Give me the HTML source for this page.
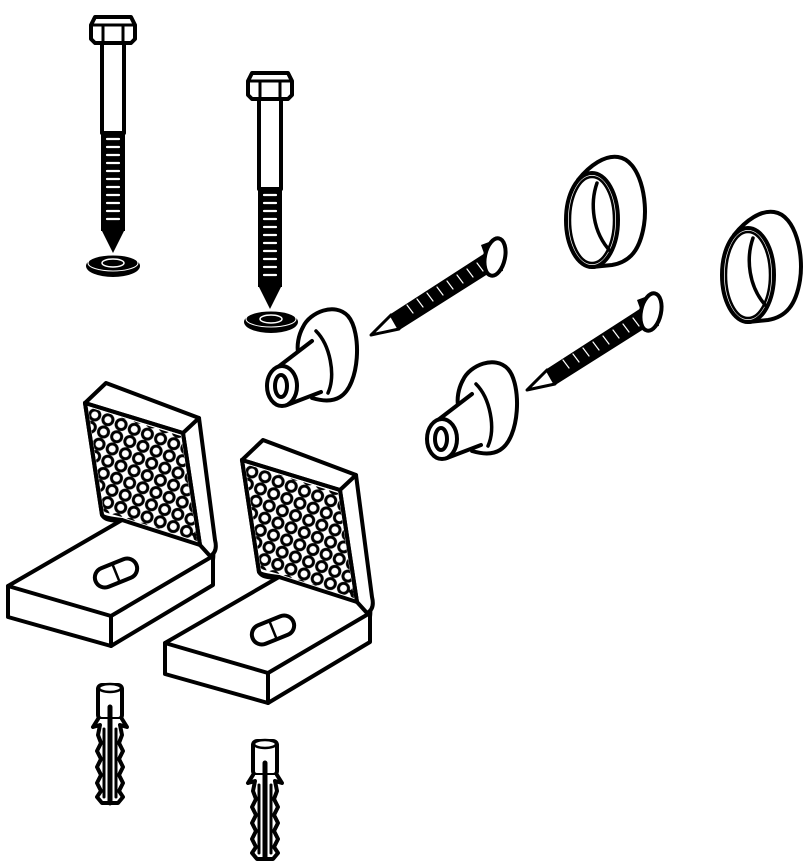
<!DOCTYPE html>
<html><head><meta charset="utf-8"><style>html,body{margin:0;padding:0;background:#fff}svg{display:block}</style></head>
<body>
<svg width="804" height="861" viewBox="0 0 804 861" xmlns="http://www.w3.org/2000/svg" fill="none" stroke="#000" stroke-width="4" stroke-linejoin="round" stroke-linecap="round">
<defs>
  <g id="bolt">
    <path d="M-22,-6 L-18,-14 L18,-14 L22,-6 L22,8 L18,12 L-18,12 L-22,8 Z" fill="#fff"/>
    <path d="M-10,-6 L10,-6 M-10,-6 L-10,12 M10,-6 L10,12 M-22,-6 L-10,-6 M10,-6 L22,-6" stroke-width="3"/>
    <rect x="-11" y="12" width="22" height="90" fill="#fff"/>
    <rect x="-12" y="100" width="24" height="100" fill="#000" stroke="none"/>
    <path d="M-12,198 L12,198 L0,222 Z" fill="#000" stroke="none"/>
    <g stroke="#fff" stroke-width="2.2">
      <path d="M-6,108h12M-6,116h12M-6,124h12M-6,132h12M-6,140h12M-6,148h12M-6,156h12M-6,164h12M-6,172h12M-6,180h12M-6,188h12"/>
    </g>
  </g>
  <g id="washer">
    <ellipse cx="0" cy="2" rx="27" ry="11" fill="#000" stroke="none"/>
    <ellipse cx="0" cy="-1" rx="25" ry="8" fill="#000" stroke="#fff" stroke-width="1"/>
    <ellipse cx="0" cy="-1" rx="11" ry="4" fill="#000" stroke="#fff" stroke-width="1.5"/>
  </g>
  <g id="cap">
    <path d="M303,327 C310,312 335,302 348,316 C362,332 360,385 340,397 C332,402 322,401 312,398 L298,352 C297,346 298,336 303,327 Z" fill="#fff"/>
    <path d="M316,331 C330,345 336,375 328,393" stroke-width="3.5"/>
    <path d="M278,367 L312,341 C322,350 326,380 320,393 L287,406 Z" fill="#fff" stroke="none"/>
    <path d="M278,367 L312,341 M287,405 L321,392"/>
    <ellipse cx="282" cy="386" rx="15" ry="20" fill="#fff"/>
    <ellipse cx="281" cy="386" rx="6" ry="11" fill="#fff"/>
  </g>
  <g id="screw">
    <path d="M0,0 L20,-20 L116,-82 L126,-68 L28,-6 Z" fill="#000" stroke="#000" stroke-width="2"/>
    <path d="M0,0 L20,-20 L28,-6 Z" fill="#fff" stroke="#000" stroke-width="3"/>
    <g stroke="#fff" stroke-width="1.2">
      <path d="M36,-30l6,8M46,-36l6,8M56,-42l6,8M66,-48l6,8M76,-54l6,8M86,-60l6,8M96,-66l6,8M106,-72l6,8"/>
    </g>
    <path d="M110,-90 L126,-96 L132,-64 L120,-62 Z" fill="#000" stroke="none"/>
    <ellipse cx="124" cy="-78" rx="10" ry="19" fill="#fff" transform="rotate(12 124 -78)"/>
  </g>
  <g id="ring">
    <path d="M-14,-40 C-2,-55 13,-65 26,-63 C48,-60 56,-20 52,5 C48,30 38,42 20,45 L0,47 Z" fill="#fff"/>
    <ellipse cx="0" cy="0" rx="26" ry="47" fill="#fff"/>
    <ellipse cx="0" cy="0" rx="22" ry="43" stroke-width="2.5"/>
    <path d="M5,-37 C-2,-17 0,12 19,32" stroke-width="3.5"/>
  </g>
  <pattern id="dots" width="14" height="13" patternUnits="userSpaceOnUse" patternTransform="rotate(20)">
    <circle cx="7" cy="6.5" r="5" fill="#fff" stroke="#000" stroke-width="3"/>
  </pattern>
  <g id="bracket">
    <path d="M8,586 L122,520 Q118,506 126,506 L205,540 Q215,545 213,560 L213,585 L111,646 L8,617 Z" fill="#fff"/>
    <path d="M8,586 L111,616 L213,556 M111,616 L111,646"/>
    <path d="M85,403 L106,383 L199,418 L215,540 Q218,552 210,556 L200,545 L183,433 Z" fill="#fff"/>
    <path d="M85,403 L183,433 L199,418 M183,433 L200,545"/>
    <path d="M85,403 L102,515 Q106,522 122,520 L200,545" fill="#fff"/>
    <path d="M88,407 L181,436 L197,541 L122,517 L104,512 Z" fill="url(#dots)" stroke="none"/>
    <path d="M85,403 L102,515 Q104,518 122,520" />
    <g transform="rotate(-22 116 573)">
      <rect x="94" y="563" width="44" height="20" rx="10" fill="#fff"/>
      <path d="M116,563 L116,583" stroke-width="2.5"/>
    </g>
  </g>
  <g id="plug">
    <rect x="-12" y="0" width="24" height="34" rx="4" fill="#fff"/>
    <ellipse cx="0" cy="3" rx="11" ry="4" fill="#fff" stroke-width="2.5"/>
    <path d="M-12,34 L-17,42 L-10,40 L-12,50 L-9,58 L-13,66 L-9,74 L-13,82 L-9,90 L-13,98 L-9,106 L-13,112 L-8,118 L8,118 L13,112 L9,106 L13,98 L9,90 L13,82 L9,74 L13,66 L9,58 L12,50 L10,40 L17,42 L12,34" fill="#fff" stroke-width="4"/>
    <path d="M-6,44 L-6,112 M6,44 L6,112" stroke-width="3"/>
    <path d="M0,22 L0,118" stroke-width="5"/>
  </g>
</defs>

<use href="#bolt" transform="translate(113,31)"/>
<use href="#washer" transform="translate(113,264)"/>
<use href="#bolt" transform="translate(270,87)"/>
<use href="#washer" transform="translate(271,320)"/>

<use href="#cap"/>
<use href="#cap" transform="translate(160,53)"/>

<use href="#screw" transform="translate(371,335)"/>
<use href="#screw" transform="translate(527,390)"/>

<use href="#ring" transform="translate(592,220)"/>
<use href="#ring" transform="translate(748,275)"/>

<use href="#bracket"/>
<use href="#bracket" transform="translate(157,57)"/>

<use href="#plug" transform="translate(110,685)"/>
<use href="#plug" transform="translate(265,741)"/>
</svg>
</body></html>
